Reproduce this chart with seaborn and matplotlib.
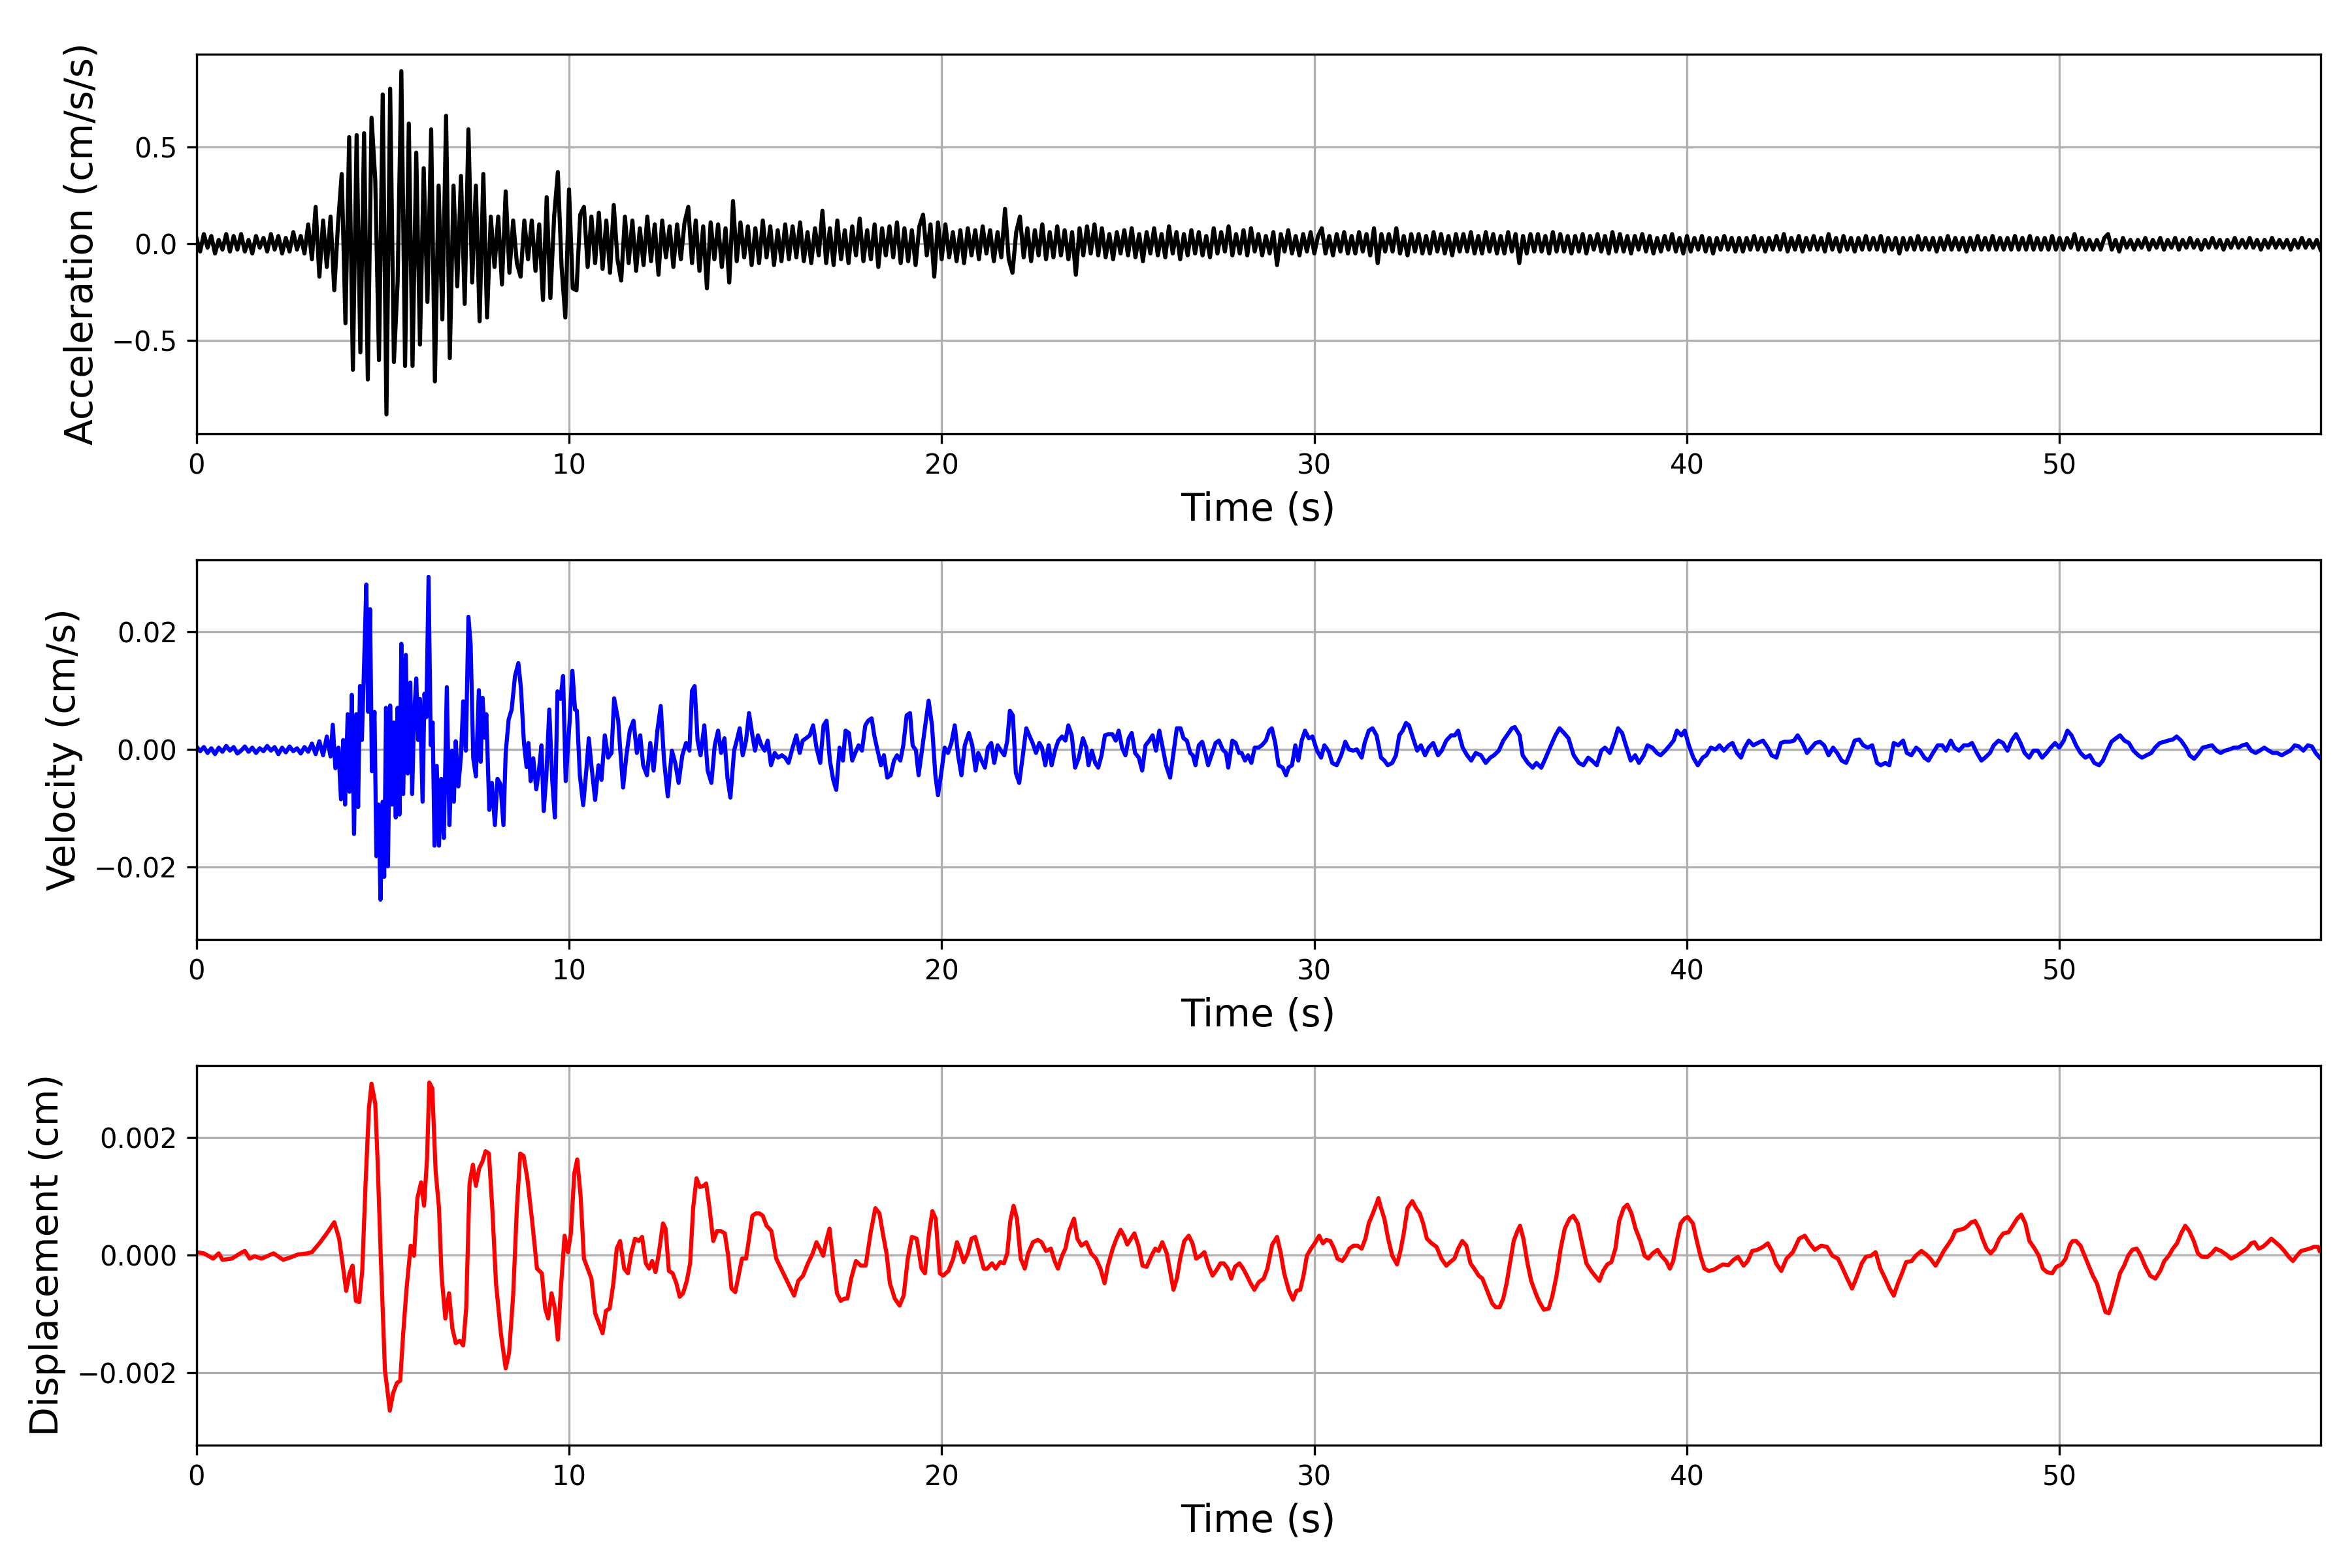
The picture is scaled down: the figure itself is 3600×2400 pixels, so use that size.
import numpy as np
import matplotlib.pyplot as plt
import seaborn as sns
from matplotlib.ticker import MaxNLocator


# Acceleration, one value every 0.1 s, in 0.01 cm/s/s (one row per second)
acc_step = 0.1
acc_centi = [
    3, -4, 5, -2, 4, -5, 2, -3, 5, -4,
    4, -3, 5, -4, 2, -5, 4, -2, 3, -4,
    5, -3, 4, -5, 3, -4, 6, -3, 4, -5,
    10, -8, 19, -17, 12, -12, 14, -24, 10, 36,
    -41, 55, -65, 56, -56, 57, -70, 65, 33, -60,
    77, -88, 80, -61, -20, 89, -63, 62, -63, 47,
    -52, 39, -30, 59, -71, 30, -39, 66, -59, 30,
    -22, 35, -31, 59, -20, 30, -40, 36, -38, 14,
    -12, 14, -21, 27, -15, 12, -10, -17, 12, -8,
    12, -14, 10, -29, 24, -28, 14, 37, -12, -38,
    28, -23, -24, 15, 19, -12, 14, -10, 16, -13,
    12, -15, 20, -8, -19, 14, -10, 12, -14, 8,
    -11, 14, -9, 10, -16, 12, -7, 9, -12, 10,
    -8, 11, 19, -10, 12, -14, 9, -23, 11, -8,
    10, -12, 8, -20, 22, -9, 11, -7, 9, -11,
    8, -10, 12, -7, 9, -11, 7, -9, 10, -8,
    9, -7, 11, -9, 6, -10, 8, -6, 17, -10,
    8, -11, 12, -8, 7, -10, 9, -6, 13, -9,
    7, -8, 10, -12, 8, -6, 9, -7, 11, -10,
    8, -9, 7, -11, 9, 15, -6, 10, -17, 11,
    -8, 10, -7, 6, -9, 7, -10, 8, -6, 7,
    -8, 9, -5, 7, -9, 6, -7, 18, -8, -15,
    6, 14, -7, 8, -9, 7, -6, 10, -8, 6,
    -7, 9, -6, 7, -8, 6, -16, 8, -6, 9,
    -5, 10, -6, 8, -7, 5, -8, 6, -5, 7,
    -6, 8, -7, 5, -9, 6, -5, 8, -6, 5,
    -7, 9, -5, 6, -8, 5, -6, 7, -5, 6,
    -6, 4, -7, 8, -5, 6, -4, 9, -6, 5,
    -5, 7, -6, 8, -4, 5, -6, 4, -5, 6,
    -11, 5, -4, 7, -5, 4, -6, 5, -4, 6,
    -5, 4, 8, -5, 4, -6, 5, -4, 6, -5,
    4, -5, 6, -4, 5, -6, 8, -10, 5, -4,
    5, -4, 8, -5, 4, -6, 5, -4, 5, -5,
    4, -5, 6, -4, 5, -5, 4, -6, 5, -4,
    5, -4, 6, -5, 4, -5, 6, -4, 5, -5,
    4, -5, 6, -4, 5, -10, 4, -5, 5, -4,
    5, -4, 4, -5, 6, -4, 5, -4, 4, -5,
    4, -4, 5, -5, 4, -3, 5, -4, 4, -5,
    6, -4, 5, -4, 4, -5, 4, -3, 5, -4,
    4, -5, 3, -4, 4, -3, 5, -4, 3, -5,
    4, -4, 3, -3, 4, -4, 3, -5, 3, -3,
    4, -3, 3, -4, 3, -4, 3, -3, 4, -3,
    3, -4, 3, -3, 4, -3, 5, -4, 3, -3,
    4, -4, 3, -3, 4, -3, 3, -4, 5, -3,
    3, -4, 4, -3, 3, -4, 3, -3, 4, -3,
    3, -3, 4, -4, 3, -3, 3, -5, 3, -3,
    3, -3, 4, -3, 3, -3, 3, -4, 3, -3,
    4, -3, 3, -3, 3, -4, 3, -3, 4, -3,
    3, -3, 4, -3, 3, -3, 3, -3, 4, -3,
    3, -3, 4, -3, 3, -3, 3, -3, 4, -3,
    3, -3, 3, -2, 5, -3, 3, -3, 2, -3,
    2, -3, 3, 5, -3, 2, -4, 3, -2, 2,
    -3, 2, -2, 3, -3, 2, -2, 3, -3, 2,
    -2, 3, -3, 2, -2, 3, -2, 2, -3, 2,
    -2, 3, -2, 2, -3, 2, -2, 3, -2, 2,
    -2, 3, -2, 2, -3, 2, -2, 3, -2, 2,
    -2, 2, -3, 2, -2, 3, -2, 2, -2, 2,
    -3,
]

# Velocity: (time s, value in 1e-4 cm/s)
vel_points = [
    (0.0, 5), (0.1, -3), (0.2, 4), (0.3, -6), (0.4, 2), (0.5, -8), (0.6, 3), (0.7, -4), (0.8, 6), (0.9, -2),
    (1.0, 4), (1.1, -7), (1.2, -2), (1.3, 5), (1.4, -4), (1.5, 3), (1.6, -6), (1.7, 2), (1.8, -3), (1.9, 6),
    (2.0, -2), (2.1, 4), (2.2, -8), (2.3, 3), (2.4, -5), (2.5, 5), (2.6, -3), (2.7, 2), (2.8, -7), (2.9, 4),
    (3.0, -4), (3.1, 10), (3.2, -8), (3.3, 14), (3.4, -10), (3.5, 22), (3.6, -12),
    (3.66, 42), (3.73, -32), (3.81, 3), (3.88, -85), (3.94, 16), (3.99, -94), (4.06, 60), (4.11, -72),
    (4.17, 93), (4.23, -144), (4.29, 60), (4.34, -98), (4.39, 108), (4.44, 16), (4.49, 121), (4.56, 281),
    (4.61, 64), (4.66, 239), (4.71, -37), (4.78, 64), (4.83, -182), (4.89, -94), (4.94, -256), (5.0, -89),
    (5.04, -217), (5.09, 71), (5.14, -199), (5.2, 75), (5.25, -94), (5.3, 46), (5.35, -116), (5.4, 71),
    (5.45, -111), (5.5, 180), (5.55, -76), (5.62, 161), (5.67, -41), (5.74, 114), (5.79, -76), (5.84, 55),
    (5.9, 121), (5.95, 16), (6.0, 86), (6.07, -89), (6.12, 95), (6.17, 55), (6.23, 294), (6.29, 7),
    (6.34, 46), (6.39, -164), (6.45, -28), (6.51, -164), (6.57, -50), (6.64, -151), (6.72, 106), (6.79, -129),
    (6.86, -2), (6.91, -89), (6.96, 14), (7.03, -63), (7.1, -11), (7.16, 82), (7.23, -2), (7.3, 226),
    (7.36, 178), (7.43, -15), (7.5, -46), (7.58, 101), (7.63, -21), (7.68, 88), (7.74, 20), (7.78, 60),
    (7.86, -103), (7.93, -57), (8.01, -129), (8.08, -50), (8.16, -59), (8.24, -129), (8.3, -6), (8.38, 51),
    (8.46, 68), (8.55, 125), (8.64, 147), (8.71, 104), (8.79, 11), (8.86, -30), (8.91, 11), (8.97, -54),
    (9.04, -15), (9.12, -68), (9.19, -37), (9.26, 7), (9.32, -105), (9.39, -46), (9.47, 68), (9.55, -54),
    (9.62, -116), (9.69, 99), (9.77, 86), (9.84, 125), (9.91, -54), (10.01, 42), (10.09, 134), (10.16, 68),
    (10.21, 66), (10.29, -44), (10.38, -95), (10.47, -31), (10.53, 19), (10.6, -27), (10.7, -86), (10.79, -27),
    (10.87, -52), (10.96, 24), (11.05, -14), (11.14, -6), (11.21, 87), (11.32, 49), (11.37, 3), (11.45, -65),
    (11.54, -10), (11.63, 32), (11.73, 49), (11.82, -6), (11.91, 24), (11.99, -27), (12.09, -44), (12.18, 11),
    (12.27, -36), (12.37, 32), (12.46, 74), (12.55, -19), (12.65, -80), (12.76, -2), (12.85, -23), (12.94, -57),
    (13.04, -10), (13.14, 11), (13.23, -2), (13.3, 100), (13.37, 108), (13.45, 15), (13.53, -10), (13.63, 41),
    (13.72, -36), (13.82, -57), (13.91, 7), (14.0, 32), (14.08, -6), (14.17, 19), (14.25, -48), (14.33, -82),
    (14.43, -2), (14.5, 15), (14.58, 36), (14.66, -10), (14.75, 15), (14.83, 62), (14.92, 24), (14.99, -2),
    (15.07, 24), (15.16, 7), (15.25, -2), (15.33, 15), (15.42, -27), (15.52, -6), (15.61, -14), (15.71, -10),
    (15.8, -14), (15.89, -23), (16.0, 3), (16.1, 24), (16.19, -6), (16.27, 15), (16.36, 19), (16.46, 24),
    (16.55, 41), (16.64, 3), (16.74, -23), (16.83, 41), (16.91, 49), (17.0, -19), (17.09, -52), (17.17, -69),
    (17.26, 3), (17.35, -19), (17.42, 32), (17.51, 28), (17.6, -19), (17.68, -6), (17.77, 7), (17.86, -2),
    (17.95, 41), (18.03, 49), (18.12, 53), (18.19, 24), (18.28, -2), (18.37, -27), (18.45, -10), (18.54, -48),
    (18.63, -44), (18.72, -19), (18.8, -10), (18.89, -19), (18.97, 7), (19.06, 58), (19.15, 62), (19.22, 7),
    (19.31, -2), (19.38, -44), (19.47, -2), (19.54, 32), (19.65, 83), (19.74, 41), (19.83, -44), (19.9, -78),
    (19.98, -44), (20.08, 3), (20.17, -6), (20.26, 11), (20.35, 41), (20.44, -10), (20.53, -44), (20.62, 7),
    (20.73, 28), (20.82, 7), (20.91, -36), (20.98, -6), (21.07, -19), (21.16, -31), (21.24, 3), (21.33, 11),
    (21.41, -23), (21.5, 7), (21.59, -2), (21.68, -10), (21.76, 15), (21.83, 66), (21.91, 58), (21.99, -40),
    (22.08, -57), (22.17, -14), (22.27, 36), (22.35, 24), (22.44, 11), (22.53, -6), (22.62, 11), (22.69, 3),
    (22.78, -27), (22.87, 7), (22.95, -27), (23.04, -2), (23.13, 15), (23.23, 22), (23.32, 15), (23.4, 41),
    (23.49, 24), (23.58, -31), (23.68, -14), (23.79, 19), (23.88, 3), (23.94, -27), (24.03, -2), (24.12, -23),
    (24.2, -31), (24.29, -10), (24.38, 24), (24.48, 26), (24.58, 26), (24.67, 15), (24.75, 32), (24.84, 3),
    (24.93, -10), (25.02, 19), (25.1, 28), (25.19, -6), (25.29, -14), (25.38, -36), (25.47, 7), (25.57, 15),
    (25.66, 24), (25.75, -2), (25.84, 32), (25.93, 3), (26.02, -27), (26.13, -48), (26.22, -6), (26.31, 36),
    (26.41, 36), (26.49, 19), (26.58, 15), (26.67, -6), (26.74, -10), (26.81, -27), (26.9, 7), (26.99, 13),
    (27.09, -10), (27.15, -27), (27.24, -10), (27.35, 11), (27.44, 15), (27.54, 0), (27.63, -6), (27.69, -31),
    (27.8, 15), (27.89, 11), (27.98, -6), (28.05, -6), (28.14, -19), (28.22, -10), (28.31, -23), (28.4, 3),
    (28.5, 3), (28.59, 7), (28.7, 15), (28.79, 32), (28.86, 36), (28.95, 11), (29.04, -27), (29.15, -31),
    (29.24, -44), (29.31, -31), (29.4, -27), (29.49, 7), (29.57, -19), (29.66, 15), (29.75, 32), (29.85, 19),
    (29.95, 22), (30.07, -2), (30.18, -14), (30.27, 7), (30.39, -4), (30.48, -23), (30.6, -27), (30.72, -10),
    (30.83, 13), (30.93, 0), (31.04, -2), (31.14, 0), (31.27, -14), (31.35, 11), (31.46, 32), (31.56, 36),
    (31.67, 24), (31.79, -14), (31.88, -19), (31.97, -27), (32.09, -23), (32.19, -10), (32.28, 24), (32.37, 32),
    (32.46, 45), (32.54, 41), (32.67, 15), (32.76, -2), (32.86, 7), (32.97, -10), (33.07, 3), (33.19, 11),
    (33.32, -10), (33.42, -2), (33.54, 15), (33.67, 24), (33.77, 24), (33.86, 32), (33.98, 3), (34.1, -10),
    (34.21, -19), (34.33, -6), (34.47, -10), (34.6, -23), (34.72, -14), (34.82, -10), (34.95, -2), (35.07, 15),
    (35.17, 24), (35.3, 36), (35.38, 38), (35.51, 24), (35.59, -10), (35.73, -23), (35.86, -31), (35.96, -23),
    (36.09, -31), (36.21, -14), (36.35, 7), (36.47, 24), (36.58, 36), (36.7, 28), (36.82, 19), (36.96, -10),
    (37.1, -23), (37.22, -27), (37.35, -14), (37.45, -19), (37.58, -27), (37.7, -2), (37.8, 3), (37.93, -6),
    (38.05, 15), (38.15, 36), (38.26, 28), (38.36, 7), (38.49, -19), (38.61, -10), (38.71, -23), (38.84, -10),
    (38.94, 7), (39.07, 3), (39.19, -6), (39.29, -10), (39.42, -2), (39.54, 7), (39.64, 15), (39.73, 32),
    (39.85, 24), (39.94, 32), (40.05, 7), (40.17, -14), (40.29, -27), (40.42, -14), (40.52, -10), (40.64, 3),
    (40.77, 0), (40.87, 7), (40.99, -2), (41.12, 7), (41.22, 11), (41.34, -6), (41.45, -14), (41.55, 3),
    (41.66, 15), (41.78, 7), (41.9, 11), (42.04, 15), (42.17, 3), (42.27, -10), (42.4, -14), (42.52, 11),
    (42.62, 13), (42.75, 13), (42.87, 15), (42.97, 24), (43.1, 11), (43.22, -6), (43.34, 3), (43.45, 11),
    (43.57, 13), (43.68, 7), (43.8, -10), (43.92, 3), (44.03, -6), (44.15, -19), (44.27, -23), (44.38, -6),
    (44.5, 15), (44.62, 17), (44.73, 7), (44.85, 3), (44.97, 7), (45.1, -23), (45.2, -27), (45.32, -23),
    (45.43, -27), (45.55, 11), (45.67, 7), (45.8, 15), (45.9, -6), (46.02, -10), (46.15, 3), (46.25, -2),
    (46.37, -14), (46.48, -19), (46.6, -6), (46.73, 7), (46.85, 7), (46.95, -2), (47.08, 15), (47.18, 3),
    (47.3, -2), (47.43, 7), (47.55, 7), (47.65, 11), (47.78, -6), (47.9, -19), (48.0, -14), (48.13, -6),
    (48.23, 7), (48.36, 15), (48.48, 11), (48.6, -2), (48.71, 15), (48.83, 26), (48.95, 11), (49.06, -6),
    (49.18, -14), (49.3, -2), (49.41, -2), (49.53, -14), (49.65, -6), (49.76, 3), (49.88, 11), (49.99, 3),
    (50.11, 15), (50.21, 32), (50.32, 24), (50.44, 7), (50.56, -6), (50.69, -14), (50.81, -10), (50.93, -23),
    (51.06, -27), (51.16, -19), (51.28, -2), (51.39, 13), (51.51, 19), (51.62, 24), (51.74, 15), (51.86, 11),
    (51.98, -2), (52.11, -10), (52.21, -14), (52.33, -10), (52.46, -6), (52.56, 3), (52.69, 11), (52.81, 13),
    (52.91, 15), (53.04, 17), (53.14, 22), (53.26, 15), (53.39, 3), (53.49, -10), (53.61, -16), (53.74, -6),
    (53.84, 3), (53.96, 5), (54.09, 7), (54.21, -2), (54.32, -6), (54.44, -2), (54.56, 0), (54.67, 3),
    (54.79, 3), (54.91, 7), (55.02, 9), (55.14, -2), (55.26, -6), (55.37, -2), (55.49, 3), (55.61, -2),
    (55.72, -6), (55.84, -6), (55.96, -10), (56.07, -6), (56.19, -2), (56.31, 7), (56.42, 5), (56.54, -2),
    (56.66, 7), (56.77, 5), (56.87, -6), (56.98, -14),
]

# Displacement: (time s, value in 1e-5 cm)
disp_points = [
    (0.0, 5), (0.2, 3), (0.45, -6), (0.6, 3), (0.7, -8), (0.95, -6), (1.23, 5), (1.3, 7), (1.43, -6),
    (1.56, -2), (1.75, -6), (2.07, 3), (2.33, -8), (2.52, -4), (2.72, 1), (2.98, 3),
    (3.1, 5), (3.3, 20), (3.5, 37), (3.7, 56), (3.83, 28), (3.93, -18), (4.02, -61), (4.11, -31),
    (4.19, -18), (4.28, -78), (4.37, -80), (4.45, -27), (4.54, 122), (4.63, 250), (4.7, 292), (4.8, 258),
    (4.86, 165), (4.95, -6), (5.06, -197), (5.12, -227), (5.19, -265), (5.28, -235), (5.38, -218), (5.47, -214),
    (5.55, -133), (5.64, -57), (5.75, 16), (5.84, -1), (5.93, 97), (6.03, 124), (6.11, 84), (6.19, 165),
    (6.25, 294), (6.33, 284), (6.42, 143), (6.51, 80), (6.58, -35), (6.68, -108), (6.78, -65), (6.87, -125),
    (6.96, -150), (7.07, -146), (7.16, -154), (7.24, -91), (7.33, 122), (7.42, 154), (7.5, 118), (7.59, 148),
    (7.68, 160), (7.76, 177), (7.85, 173), (7.94, 80), (8.04, -48), (8.17, -133), (8.3, -193), (8.39, -167),
    (8.5, -69), (8.6, 80), (8.69, 173), (8.78, 169), (8.88, 131), (9.01, 58), (9.14, -23), (9.27, -31),
    (9.36, -91), (9.44, -108), (9.53, -65), (9.62, -91), (9.7, -144), (9.79, -48), (9.88, 33), (9.97, 5),
    (10.05, 37), (10.14, 139), (10.22, 163), (10.31, 101), (10.4, -6), (10.5, -23), (10.6, -40), (10.7, -99),
    (10.8, -116), (10.9, -133), (10.99, -95), (11.09, -91), (11.19, -48), (11.28, 11), (11.37, 24), (11.48, -23),
    (11.58, -31), (11.67, 3), (11.77, 28), (11.87, 24), (11.96, 31), (12.06, -14), (12.15, -23), (12.23, -10),
    (12.32, -29), (12.41, 3), (12.52, 54), (12.59, 45), (12.68, -27), (12.78, -31), (12.88, -48), (12.97, -71),
    (13.06, -65), (13.16, -44), (13.25, -14), (13.33, 80), (13.42, 131), (13.51, 116), (13.61, 118), (13.68, 122),
    (13.77, 80), (13.87, 24), (13.97, 41), (14.07, 41), (14.18, 37), (14.27, -1), (14.36, -57), (14.46, -63),
    (14.55, -35), (14.64, -6), (14.75, -6), (14.83, 28), (14.92, 67), (15.01, 71), (15.11, 71), (15.2, 67),
    (15.3, 50), (15.43, 41), (15.56, -6), (15.69, -23), (15.82, -40), (15.95, -57), (16.04, -69), (16.15, -44),
    (16.28, -35), (16.41, -14), (16.54, 3), (16.64, 22), (16.73, 11), (16.82, -1), (16.9, 24), (16.99, 45),
    (17.08, -6), (17.19, -65), (17.29, -78), (17.39, -74), (17.47, -74), (17.57, -40), (17.7, -10), (17.83, -18),
    (17.96, -18), (18.09, 37), (18.22, 80), (18.33, 71), (18.42, 37), (18.52, 3), (18.61, -48), (18.74, -74),
    (18.87, -86), (18.98, -69), (19.09, -6), (19.2, 31), (19.33, 28), (19.46, -23), (19.55, -31), (19.66, 37),
    (19.75, 75), (19.84, 62), (19.95, -31), (20.04, -35),
    (20.18, -27), (20.31, -6), (20.41, 22), (20.5, 7), (20.59, -12), (20.7, 3), (20.8, 28), (20.9, 31),
    (21.02, 3), (21.13, -23), (21.22, -23), (21.35, -14), (21.45, -23), (21.57, -12), (21.67, -14), (21.76, 3),
    (21.84, 58), (21.93, 84), (22.02, 62), (22.12, -6), (22.23, -23), (22.32, 3), (22.45, 22), (22.58, 26),
    (22.68, 22), (22.8, 7), (22.93, 11), (23.03, -10), (23.12, -23), (23.23, -1), (23.32, 11), (23.42, 41),
    (23.55, 62), (23.64, 28), (23.75, 16), (23.88, 22), (24.01, 3), (24.14, -6), (24.26, -23), (24.37, -48),
    (24.46, -18), (24.59, 11), (24.69, 28), (24.8, 43), (24.89, 33), (24.98, 18), (25.08, 28), (25.17, 37),
    (25.28, 16), (25.39, -18), (25.5, -20), (25.63, -1), (25.73, 11), (25.82, 7), (25.92, 22), (26.04, 3),
    (26.15, -35), (26.22, -59), (26.31, -40), (26.4, -6), (26.51, 24), (26.63, 33), (26.73, 20), (26.83, -6),
    (26.95, -1), (27.05, 5), (27.16, -18), (27.27, -35), (27.38, -25), (27.48, -14), (27.57, -14), (27.68, -23),
    (27.77, -40), (27.87, -20), (27.99, -14), (28.09, -23), (28.19, -35), (28.29, -48), (28.39, -59), (28.51, -46),
    (28.64, -40), (28.74, -23), (28.87, 18), (29.0, 31), (29.1, 3), (29.19, -31), (29.32, -61), (29.43, -76),
    (29.52, -61), (29.62, -59), (29.71, -35), (29.8, -1), (29.91, 11), (30.01, 20), (30.13, 33), (30.23, 20),
    (30.32, 26), (30.43, 24), (30.53, 11), (30.62, -6), (30.75, -10), (30.85, -1), (30.94, 11), (31.05, 16),
    (31.16, 16), (31.27, 11), (31.37, 28), (31.46, 54), (31.57, 71), (31.66, 86), (31.72, 97), (31.79, 80),
    (31.88, 62), (31.98, 28), (32.09, -1), (32.22, -16), (32.31, 7), (32.4, 37), (32.5, 80), (32.63, 92),
    (32.73, 80), (32.83, 71), (32.92, 54), (33.02, 28), (33.15, 20), (33.28, 14), (33.41, -6), (33.54, -18),
    (33.64, -12), (33.76, -6), (33.86, 11), (33.97, 24), (34.08, 16), (34.19, -14), (34.29, -23), (34.41, -35),
    (34.51, -40), (34.64, -61), (34.77, -82), (34.87, -89), (34.97, -89), (35.07, -74), (35.16, -48), (35.25, -14),
    (35.35, 24), (35.45, 41), (35.52, 50), (35.61, 28), (35.72, -14), (35.82, -44), (35.94, -65), (36.04, -80),
    (36.16, -93), (36.29, -91), (36.39, -69), (36.5, -35), (36.61, 11), (36.72, 45), (36.85, 62), (36.95, 67),
    (37.07, 54), (37.17, 24), (37.3, -14), (37.43, -27), (37.53, -35), (37.65, -44), (37.75, -27), (37.86, -16),
    (37.97, -12), (38.08, 11), (38.18, 58), (38.3, 80), (38.4, 86), (38.51, 71), (38.62, 45), (38.75, 24),
    (38.86, -1), (38.96, -6), (39.08, 3), (39.21, 9), (39.31, -1), (39.44, -10), (39.54, -23), (39.63, -10),
    (39.74, 28), (39.83, 54), (39.93, 62), (40.02, 65),
    (40.16, 54), (40.25, 28), (40.36, -1), (40.47, -23), (40.58, -27), (40.72, -25), (40.85, -20), (40.96, -16),
    (41.11, -17), (41.25, -8), (41.37, -3), (41.52, -18), (41.63, -10), (41.75, 7), (41.89, 9), (42.04, 14),
    (42.17, 20), (42.28, 7), (42.39, -14), (42.53, -27), (42.67, -6), (42.84, 5), (43.01, 28), (43.16, 33),
    (43.29, 20), (43.43, 9), (43.6, 16), (43.76, 14), (43.9, -1), (44.05, -6), (44.18, -23), (44.3, -40),
    (44.43, -57), (44.54, -40), (44.69, -14), (44.8, -3), (44.94, -1), (45.06, 5), (45.19, -23), (45.32, -40),
    (45.44, -57), (45.55, -69), (45.66, -48), (45.77, -31), (45.88, -12), (46.03, -10), (46.14, -1), (46.29, 7),
    (46.42, 1), (46.53, -6), (46.67, -18), (46.78, -6), (46.89, 7), (47.03, 20), (47.11, 28), (47.2, 41),
    (47.31, 43), (47.43, 45), (47.54, 50), (47.63, 56), (47.73, 58), (47.84, 45), (47.93, 28), (48.04, 11),
    (48.15, 3), (48.26, 11), (48.38, 28), (48.49, 37), (48.63, 39), (48.74, 50), (48.86, 62), (48.97, 69),
    (49.08, 54), (49.19, 24), (49.33, 11), (49.44, -1), (49.55, -23), (49.66, -29), (49.8, -31), (49.91, -20),
    (50.05, -16), (50.16, -6), (50.28, 18), (50.35, 24), (50.44, 24), (50.56, 16), (50.67, -1), (50.78, -18),
    (50.89, -35), (51.0, -48), (51.12, -74), (51.23, -97), (51.32, -99), (51.39, -86), (51.51, -57), (51.62, -31),
    (51.73, -18), (51.84, -1), (51.95, 9), (52.07, 11), (52.18, -1), (52.29, -18), (52.43, -35), (52.57, -40),
    (52.7, -27), (52.81, -10), (52.93, -1), (53.04, 11), (53.15, 20), (53.26, 37), (53.37, 50), (53.48, 41),
    (53.6, 24), (53.71, 3), (53.82, -3), (53.97, -3), (54.08, 3), (54.19, 11), (54.33, 7), (54.47, 1),
    (54.6, -6), (54.75, -1), (54.89, 5), (55.03, 11), (55.14, 20), (55.23, 22), (55.34, 11), (55.45, 14),
    (55.56, 20), (55.68, 28), (55.79, 22), (55.9, 16), (56.03, 7), (56.15, -3), (56.26, -10), (56.37, -1),
    (56.48, 7), (56.59, 9), (56.71, 11), (56.82, 14), (56.93, 14), (56.98, 7),
]

acc_time = np.arange(len(acc_centi)) * acc_step
acc = np.array(acc_centi) / 100.0

vel_time, vel = map(np.array, zip(*vel_points))
vel = vel * 1e-4

disp_time, disp = map(np.array, zip(*disp_points))
disp = disp * 1e-5

panels = [
    (acc_time, acc, "black", "Acceleration (cm/s/s)"),
    (vel_time, vel, "blue", "Velocity (cm/s)"),
    (disp_time, disp, "red", "Displacement (cm)"),
]

fig, axes = plt.subplots(3, 1, figsize=(12, 8))
fig.subplots_adjust(left=0.0835, right=0.9866, top=0.9656, bottom=0.0785, hspace=0.332)

for ax, (t, y, color, label) in zip(axes, panels):
    sns.lineplot(x=t, y=y, color=color, linewidth=1.5, ax=ax)
    lim = 1.1 * np.abs(y).max()
    ax.set_ylim(-lim, lim)
    ax.set_xlim(0, acc_time[-1])
    ax.yaxis.set_major_locator(MaxNLocator(nbins=4))
    ax.set_xlabel("Time (s)", fontsize=14)
    ax.set_ylabel(label, fontsize=14)
    ax.grid(True)

fig.savefig("out.png", dpi=300)
